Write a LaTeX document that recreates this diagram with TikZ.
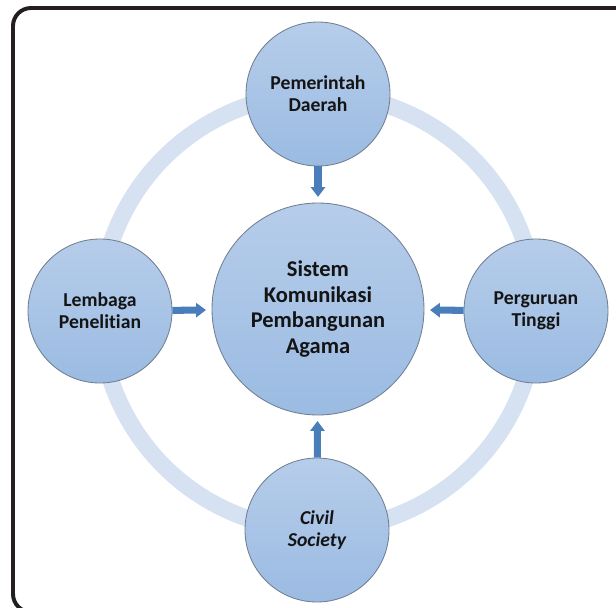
\documentclass[tikz,border=0pt]{standalone}
\usepackage{fontspec}
\setmainfont{Carlito}[Ligatures = NoCommon]
\usepackage{tikz}
\usetikzlibrary{positioning, arrows.meta}

\definecolor{ringblue}{HTML}{D6E1F1}
\definecolor{balltop}{HTML}{B6CDEA}
\definecolor{ballbottom}{HTML}{9BBBE2}
\definecolor{ballline}{HTML}{6F7E90}
\definecolor{arrowblue}{HTML}{4A7EBB}
\definecolor{framegray}{HTML}{231F20}
\definecolor{inkblack}{HTML}{141414}

\begin{document}
\begin{tikzpicture}[
  actor/.style = {circle, draw = ballline, line width = 0.6pt, top color = balltop, bottom color = ballbottom, minimum size = 3.6cm, inner sep = 0pt, align = center, text = inkblack, font = \fontsize{14}{15.6}\selectfont\bfseries},
  core/.style = {actor, minimum size = 5.3cm, font = \fontsize{16}{18.4}\selectfont\bfseries},
  push/.style = {-{Triangle[width = 10pt, length = 7pt]}, line width = 5pt, draw = arrowblue, shorten > = 4pt}
]
\clip (0, 0) rectangle (15.4, -15.2);
\draw [framegray, line width = 2.8pt, rounded corners = 0.45cm] (0.325, -0.2) rectangle (15.9, -15.3);
\coordinate (hub) at (7.95, -7.8);
\draw [ringblue, line width = 12pt] (hub) circle (5.45);
\node [core] (sys) at (7.95, -7.725) {Sistem\\Komunikasi\\Pembangunan\\Agama};
\node [actor] (pemda) at (7.95, -2.35) {Pemerintah\\Daerah};
\node [actor] (lemlit) at (2.5, -7.775) {Lembaga\\Penelitian};
\node [actor] (pt) at (13.4, -7.775) {Perguruan\\Tinggi};
\node [actor] (cs) at (7.925, -13.25) {\itshape Civil\\\itshape Society};
\draw [push] (pemda) -- (sys);
\draw [push] (lemlit) -- (sys);
\draw [push] (pt) -- (sys);
\draw [push] (cs) -- (sys);
\end{tikzpicture}
\end{document}
